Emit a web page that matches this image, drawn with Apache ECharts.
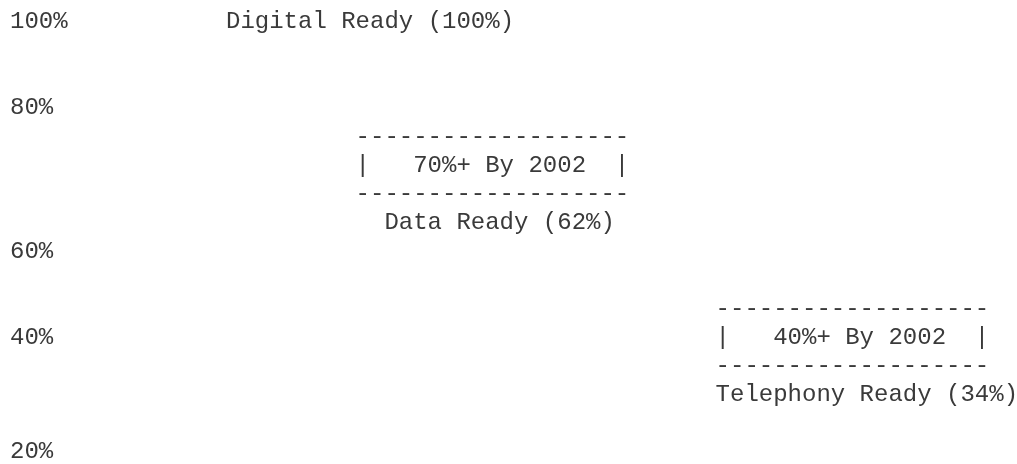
<!DOCTYPE html>
<html>
<head>
<meta charset="utf-8">
<script src="https://cdn.jsdelivr.net/npm/echarts@6/dist/echarts.min.js"></script>
<style>
  html, body { margin: 0; padding: 0; background: #fff; }
  #chart { width: 1017px; height: 464px; }
</style>
</head>
<body>
<div id="chart"></div>
<script>
// percent scale down the left side (text rows of the ascii chart)
const tickLabels = ['100%', '80%', '60%', '40%', '20%'];
const tickRows = [0, 3, 8, 11, 15];

// readiness levels
const readiness = ['Digital Ready', 'Data Ready', 'Telephony Ready'];
const readyPct = [100, 62, 34];
const targets = ['', '70%+ By 2002', '40%+ By 2002'];

// text grid placement (row, column) of each level's caption and box
const captionRow = [0, 7, 13];
const captionCol = [15, 26, 49];
const boxRow = [null, 5, 11];
const boxCol = [null, 24, 49];

const ROWS = 16;
const COLS = 50;

const rowLabels = [];
for (let r = 0; r < ROWS; r++) {
  const i = tickRows.indexOf(r);
  rowLabels.push(i >= 0 ? tickLabels[i] : '');
}

const points = [];
readiness.forEach((name, i) => {
  points.push({ value: [captionCol[i], captionRow[i]], text: `${name} (${readyPct[i]}%)` });
  if (targets[i]) {
    const dash = '-'.repeat(19);
    points.push({ value: [boxCol[i], boxRow[i] - 1], text: dash });
    points.push({ value: [boxCol[i], boxRow[i]], text: `|   ${targets[i]}  |` });
    points.push({ value: [boxCol[i], boxRow[i] + 1], text: dash });
  }
});

const FONT = "'Courier New', 'Liberation Mono', monospace";
const TEXT = '#3a3a3a';

const chart = echarts.init(document.getElementById('chart'));
chart.setOption({
  backgroundColor: '#fff',
  animation: false,
  grid: { left: 10, top: 22, width: COLS * 14.4, bottom: 10 },
  xAxis: {
    type: 'value',
    min: 0,
    max: COLS,
    show: false
  },
  yAxis: {
    type: 'category',
    data: rowLabels,
    inverse: true,
    boundaryGap: false,
    axisLine: { show: false },
    axisTick: { show: false },
    splitLine: { show: false },
    axisLabel: {
      interval: 0,
      align: 'left',
      margin: 0,
      color: TEXT,
      fontSize: 24,
      fontFamily: FONT
    }
  },
  series: [{
    type: 'scatter',
    symbolSize: 0,
    itemStyle: { opacity: 1 },
    data: points.map(p => ({ value: p.value, name: p.text })),
    label: {
      show: true,
      position: 'right',
      distance: 0,
      align: 'left',
      verticalAlign: 'middle',
      formatter: p => p.name,
      color: TEXT,
      opacity: 1,
      fontSize: 24,
      fontFamily: FONT
    },
    silent: true
  }]
});
</script>
</body>
</html>
